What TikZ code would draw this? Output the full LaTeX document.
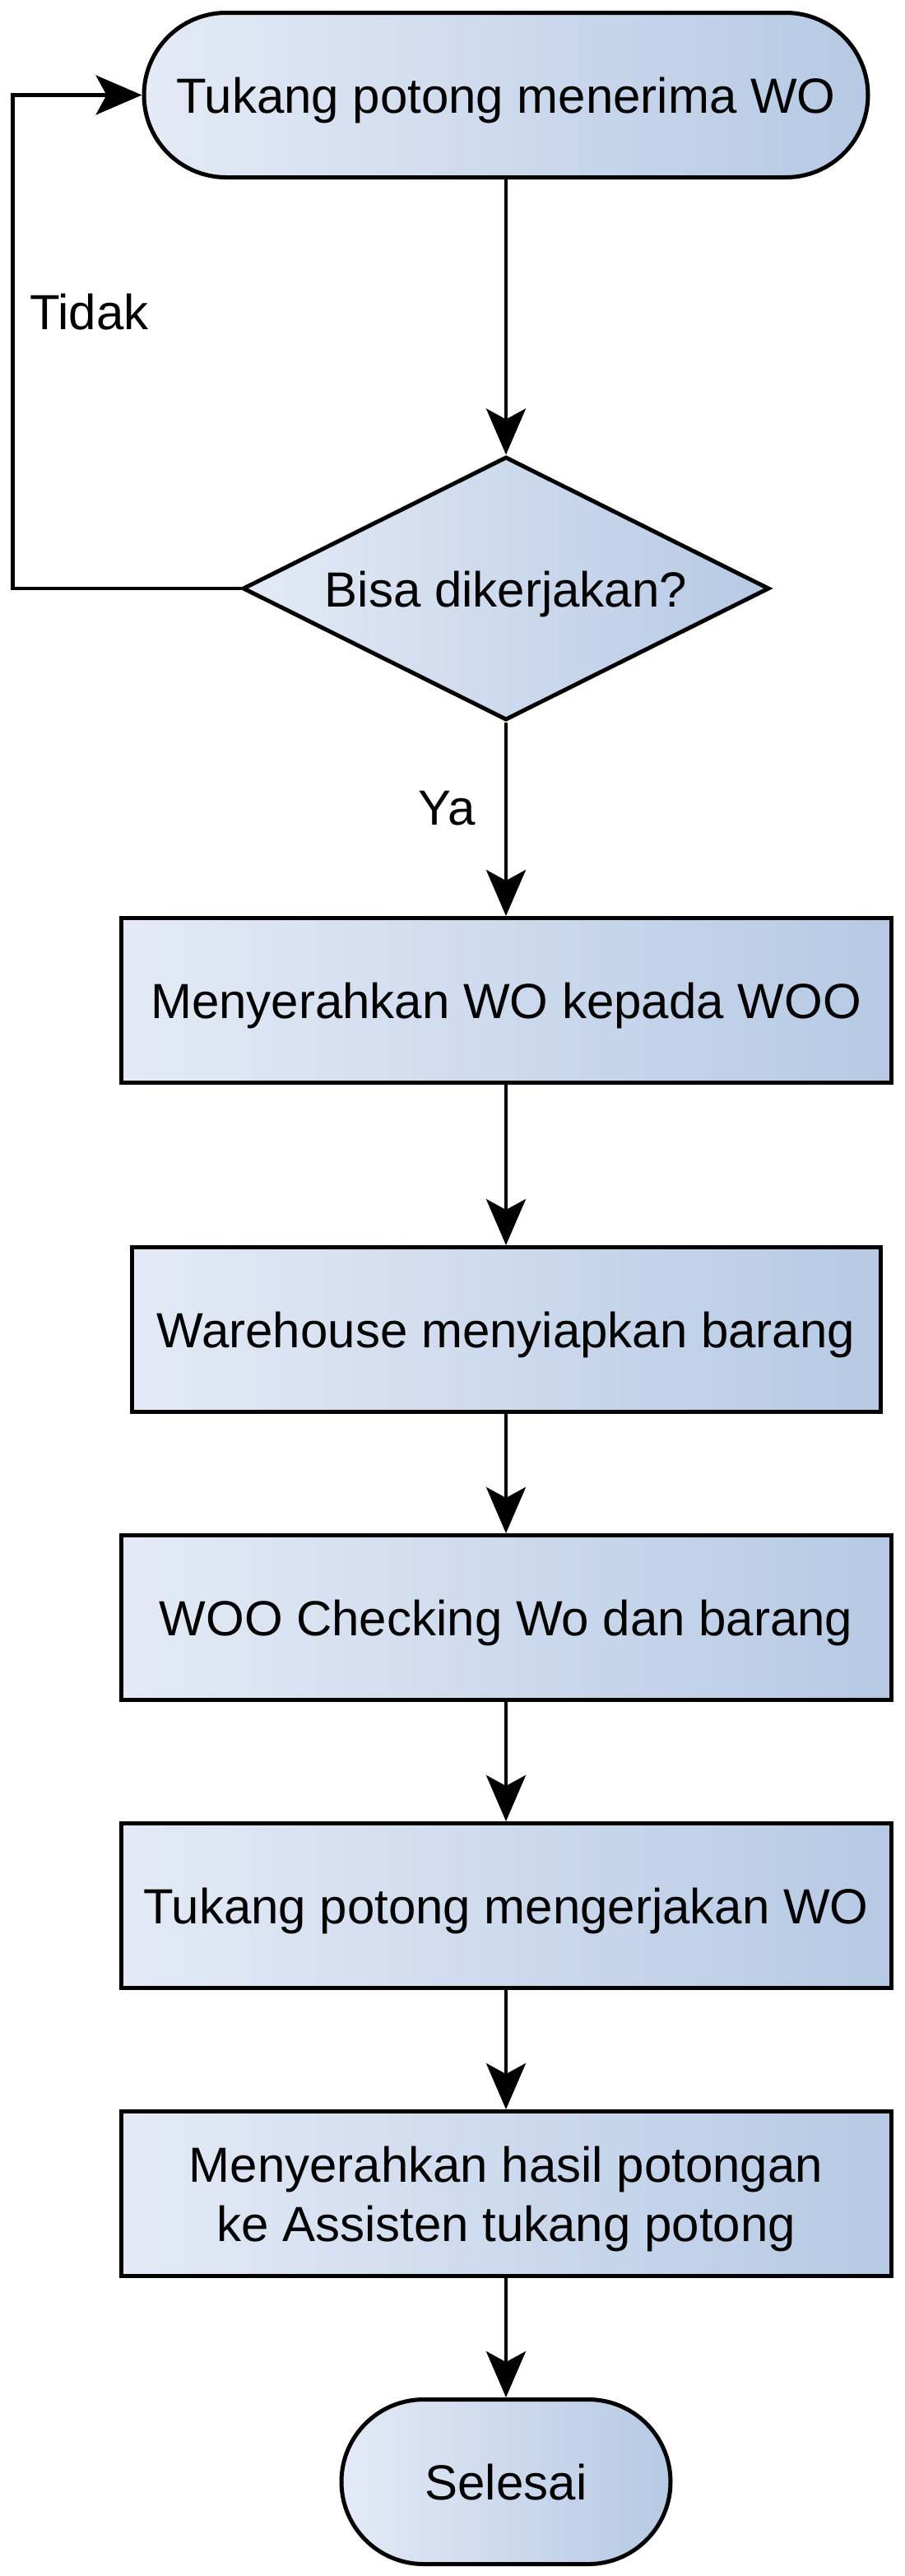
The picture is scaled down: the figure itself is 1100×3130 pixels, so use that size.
\documentclass[tikz,border=0pt]{standalone}
\usepackage{fontspec}
\setmainfont{Liberation Sans}
\usetikzlibrary{shapes.geometric,shapes.misc,arrows.meta}
\definecolor{gradL}{RGB}{228,234,246}
\definecolor{gradR}{RGB}{182,201,228}
\tikzset{
  base/.style={draw=black, line width=5pt, left color=gradL, right color=gradR,
    inner sep=0pt, font=\fontsize{60pt}{72pt}\selectfont, text height=44pt, text depth=0pt},
  termbox/.style={base, rounded rectangle, minimum height=200pt},
  procbox/.style={base, rectangle, minimum height=200pt},
  decbox/.style={base, diamond, aspect=2, minimum width=640pt, minimum height=320pt},
  lbl/.style={inner sep=0pt, font=\fontsize{60pt}{72pt}\selectfont},
  edge/.style={draw=black, line width=4.5pt, -{Stealth[length=56pt,width=48pt,inset=13pt]}},
}
\begin{document}
\begin{tikzpicture}[x=1pt,y=-1pt]
\useasboundingbox (0,0) rectangle (1100,3130);
\node[termbox, minimum width=880pt] (t1) at (615,115.5) {Tukang potong menerima WO};
\node[decbox] (dia) at (615,715) {Bisa dikerjakan?};
\node[procbox, minimum width=936pt] (r1) at (615,1215.5) {Menyerahkan WO kepada WOO};
\node[procbox, minimum width=910pt] (r2) at (615,1615.5) {Warehouse menyiapkan barang};
\node[procbox, minimum width=936pt] (r3) at (615,1965.5) {WOO Checking Wo dan barang};
\node[procbox, minimum width=936pt] (r4) at (615,2315.5) {Tukang potong mengerjakan WO};
\node[procbox, minimum width=936pt, text height=116pt, text depth=0pt] (r5) at (615,2665.5)
  {\vbox{\hsize=880pt \baselineskip=72pt \centerline{Menyerahkan hasil potongan}\centerline{ke Assisten tukang potong}}};
\node[termbox, minimum width=400pt] (end) at (615,3015.5) {Selesai};
\node[lbl, anchor=base west] (tidak) at (36,400) {Tidak};
\node[lbl, anchor=base east] (ya) at (578,1002) {Ya};
\coordinate (lp) at (15.5,715);
\draw[edge] (t1.south) -- (dia.north);
\draw[edge] (dia.west) -- (lp) |- (t1.west);
\draw[edge] (dia.south) -- (r1.north);
\draw[edge] (r1.south) -- (r2.north);
\draw[edge] (r2.south) -- (r3.north);
\draw[edge] (r3.south) -- (r4.north);
\draw[edge] (r4.south) -- (r5.north);
\draw[edge] (r5.south) -- (end.north);
\end{tikzpicture}
\end{document}
